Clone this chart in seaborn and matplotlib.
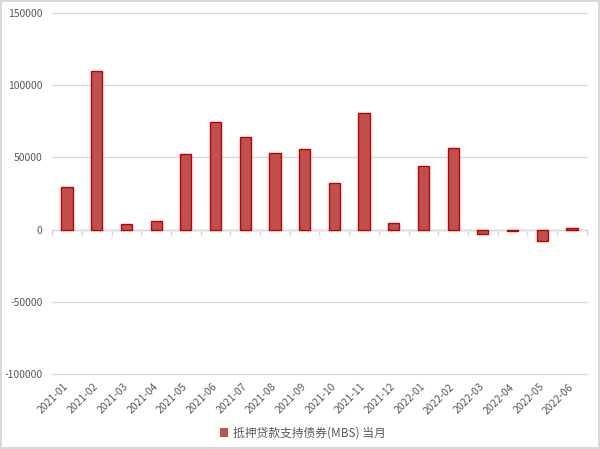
import numpy as np
import pandas as pd
import matplotlib
matplotlib.use('Agg')
import matplotlib.pyplot as plt
import seaborn as sns
from matplotlib.ticker import FixedLocator

months = ['2021-01', '2021-02', '2021-03', '2021-04', '2021-05', '2021-06',
          '2021-07', '2021-08', '2021-09', '2021-10', '2021-11', '2021-12',
          '2022-01', '2022-02', '2022-03', '2022-04', '2022-05', '2022-06']
mbs_values = [29500, 110000, 3700, 5800, 52100, 74500,
              64300, 52800, 55800, 32400, 81000, 4900,
              44400, 56300, -2800, -900, -8100, 1000]
series_name = '抵押贷款支持债券(MBS) 当月'
y_ticks = [-100000, -50000, 0, 50000, 100000, 150000]

sns.set_theme(style='white')
plt.rcParams['font.family'] = ['Noto Sans CJK SC', 'DejaVu Sans']
plt.rcParams['axes.unicode_minus'] = False

df = pd.DataFrame({'month': months, 'value': mbs_values, 'series': series_name})

fig = plt.figure(figsize=(6, 4.49), dpi=100)
fig.patch.set_edgecolor('#D9D9D9')
fig.patch.set_linewidth(1.5)
ax = fig.add_axes([0.087, 0.167, 0.891, 0.804])

sns.barplot(data=df, x='month', y='value', hue='series', palette=['#C0504D'],
            width=0.38, edgecolor='#C00000', linewidth=1.0, ax=ax, saturation=1)

ymin, ymax = y_ticks[0], y_ticks[-1]
ax.set_ylim(ymin, ymax)
ax.set_xlim(-0.5, len(months) - 0.5)
ax.set_yticks(y_ticks)
ax.set_yticklabels([str(t) for t in y_ticks], color='#595959', fontsize=7.5)
ax.yaxis.grid(True, color='#D9D9D9', linewidth=1)
for gl in ax.get_ygridlines():
    gl.set_clip_on(False)
ax.set_axisbelow(True)
for s in ax.spines.values():
    s.set_visible(False)
ax.tick_params(axis='y', length=0, pad=7)
ax.set_xlabel('')
ax.set_ylabel('')

# category labels along the bottom
ax.set_xticks(range(len(months)))
ax.set_xticklabels(months, rotation=45, ha='right', va='center',
                   rotation_mode='anchor', color='#595959', fontsize=7.5)
ax.tick_params(axis='x', length=0, pad=8)

# zero axis line with tick marks at category boundaries
zero_pos = (0 - ymin) / (ymax - ymin)
sec = ax.secondary_xaxis(zero_pos)
sec.spines['bottom'].set_color('#D9D9D9')
sec.spines['bottom'].set_linewidth(1)
sec.xaxis.set_major_locator(FixedLocator(np.arange(-0.5, len(months), 1.0)))
sec.tick_params(axis='x', length=4, color='#D9D9D9', width=1, labelbottom=False)

leg = ax.legend(loc='center', bbox_to_anchor=(0.469, -0.164), frameon=False,
                fontsize=8.5, handlelength=0.7, handleheight=0.7, handletextpad=0.4)
for t in leg.get_texts():
    t.set_color('#595959')
for h in leg.legend_handles:
    h.set_edgecolor('#C0504D')
    h.set_linewidth(0)

fig.savefig('out.png', dpi=100)
